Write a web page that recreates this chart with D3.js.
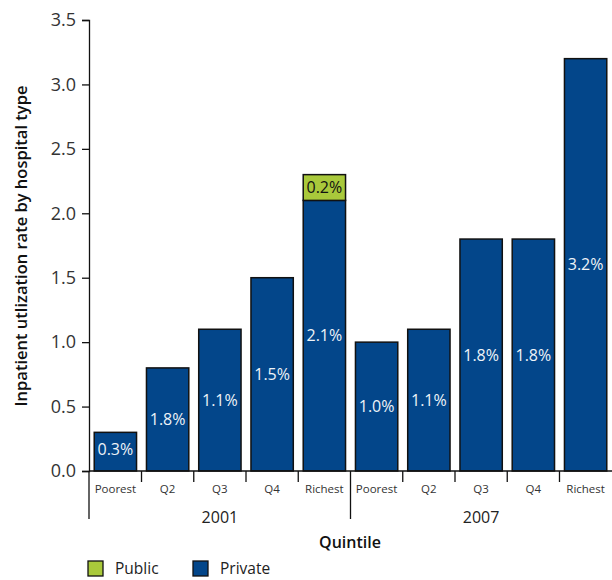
<!DOCTYPE html>
<html>
<head>
<meta charset="utf-8">
<script src="https://cdn.jsdelivr.net/npm/d3@7"></script>
<style>
  body { margin: 0; background: #fff; }
  svg { display: block; font-family: "Open Sans", sans-serif; }
</style>
</head>
<body>
<svg id="chart" width="612" height="580"></svg>
<script>
// Inpatient utilization by quintile, 2001 and 2007
const years = ["2001", "2007"];
const quintiles = ["Poorest", "Q2", "Q3", "Q4", "Richest"];
const privateValues = [0.3, 0.8, 1.1, 1.5, 2.1, 1.0, 1.1, 1.8, 1.8, 3.2];
const publicValues = [0, 0, 0, 0, 0.2, 0, 0, 0, 0, 0];
const privateLabels = ["0.3%", "1.8%", "1.1%", "1.5%", "2.1%", "1.0%", "1.1%", "1.8%", "1.8%", "3.2%"];
const publicLabels = ["", "", "", "", "0.2%", "", "", "", "", ""];
const yTicks = [0, 0.5, 1.0, 1.5, 2.0, 2.5, 3.0, 3.5];

const blue = "#03468a";
const green = "#a9c93b";
const font = "'Open Sans', sans-serif";

const svg = d3.select("#chart");
const plotLeft = 89, plotRight = 612, plotTop = 20, plotBottom = 471;

const keys = [];
years.forEach(y => quintiles.forEach(q => keys.push(y + "|" + q)));

const x = d3.scaleBand().domain(keys).range([plotLeft, plotRight]).paddingInner(0.19).paddingOuter(0.1);
const y = d3.scaleLinear().domain([0, 3.5]).range([plotBottom, plotTop]);

const rows = keys.map((k, i) => ({
  key: k, year: k.split("|")[0], q: k.split("|")[1],
  priv: privateValues[i], pub: publicValues[i],
  privLabel: privateLabels[i], pubLabel: publicLabels[i]
}));

// Y axis
const yAxis = d3.axisLeft(y).tickValues(yTicks).tickFormat(d3.format(".1f")).tickSizeOuter(0).tickSize(7).tickPadding(6);
const gy = svg.append("g").attr("transform", `translate(${plotLeft},0)`).call(yAxis);
gy.select(".domain").attr("stroke", "#111").attr("stroke-width", 1.3);
gy.selectAll(".tick line").attr("stroke", "#111").attr("stroke-width", 1.3);
gy.selectAll(".tick text").attr("font-size", 18).attr("fill", "#333")
  .attr("font-family", font);

// Bars: private
svg.append("g").selectAll("rect").data(rows).join("rect")
  .attr("x", d => x(d.key))
  .attr("width", x.bandwidth())
  .attr("y", d => y(d.priv))
  .attr("height", d => y(0) - y(d.priv))
  .attr("fill", blue).attr("stroke", "#111").attr("stroke-width", 1.5);

// Bars: public (stacked on top)
svg.append("g").selectAll("rect").data(rows.filter(d => d.pub > 0)).join("rect")
  .attr("x", d => x(d.key))
  .attr("width", x.bandwidth())
  .attr("y", d => y(d.priv + d.pub))
  .attr("height", d => y(d.priv) - y(d.priv + d.pub))
  .attr("fill", green).attr("stroke", "#111").attr("stroke-width", 1.5);

// Value labels
svg.append("g").selectAll("text").data(rows).join("text")
  .attr("x", d => x(d.key) + x.bandwidth() / 2)
  .attr("y", d => Math.min((y(d.priv) + y(0)) / 2, y(0) - 22))
  .attr("dy", "0.35em")
  .attr("text-anchor", "middle")
  .attr("font-size", 16).attr("fill", "#eef3f8")
  .text(d => d.privLabel);

svg.append("g").selectAll("text").data(rows.filter(d => d.pub > 0)).join("text")
  .attr("x", d => x(d.key) + x.bandwidth() / 2)
  .attr("y", d => (y(d.priv) + y(d.priv + d.pub)) / 2)
  .attr("dy", "0.35em")
  .attr("text-anchor", "middle")
  .attr("font-size", 16).attr("fill", "#111")
  .text(d => d.pubLabel);

// X axis baseline
const gx = svg.append("g");
gx.append("line").attr("x1", plotLeft).attr("x2", plotRight).attr("y1", plotBottom).attr("y2", plotBottom)
  .attr("stroke", "#111").attr("stroke-width", 1.3);

// Category separators
keys.forEach((k, i) => {
  if (i === 0) return;
  const sx = x(k) - x.step() * x.paddingInner() / 2;
  const isGroup = i % quintiles.length === 0;
  gx.append("line").attr("x1", sx).attr("x2", sx).attr("y1", plotBottom).attr("y2", isGroup ? 519 : 482)
    .attr("stroke", "#111").attr("stroke-width", 1.3);
});
gx.append("line").attr("x1", plotLeft).attr("x2", plotLeft).attr("y1", plotBottom).attr("y2", 519)
  .attr("stroke", "#111").attr("stroke-width", 1.3);

// Category labels
gx.selectAll("text.cat").data(rows).join("text").attr("class", "cat")
  .attr("x", d => x(d.key) + x.bandwidth() / 2)
  .attr("y", 489).attr("dy", "0.35em")
  .attr("text-anchor", "middle").attr("font-size", 11.5).attr("fill", "#333")
  .text(d => d.q);

// Year labels
years.forEach(yr => {
  const first = x(yr + "|" + quintiles[0]);
  const last = x(yr + "|" + quintiles[quintiles.length - 1]) + x.bandwidth();
  gx.append("text").attr("x", (first + last) / 2).attr("y", 517).attr("dy", "0.35em")
    .attr("text-anchor", "middle").attr("font-size", 16).attr("fill", "#222")
    .text(yr);
});

// Axis titles
svg.append("text").attr("x", 350).attr("y", 542).attr("dy", "0.35em")
  .attr("text-anchor", "middle").attr("font-size", 16).attr("font-weight", 600).attr("fill", "#111")
  .text("Quintile");

svg.append("text").attr("transform", "translate(21,246) rotate(-90)").attr("dy", "0.35em")
  .attr("text-anchor", "middle").attr("font-size", 16.5).attr("font-weight", 600).attr("fill", "#111")
  .text("Inpatient utlization rate by hospital type");

// Legend
const legend = [{ name: "Public", color: green, x: 88 }, { name: "Private", color: blue, x: 193 }];
const lg = svg.append("g").selectAll("g").data(legend).join("g")
  .attr("transform", d => `translate(${d.x},561)`);
lg.append("rect").attr("width", 15).attr("height", 15).attr("fill", d => d.color)
  .attr("stroke", "#111").attr("stroke-width", 1.3);
lg.append("text").attr("x", 27).attr("y", 8).attr("dy", "0.35em").attr("font-size", 15.5)
  .attr("fill", "#222").text(d => d.name);
</script>
</body>
</html>
